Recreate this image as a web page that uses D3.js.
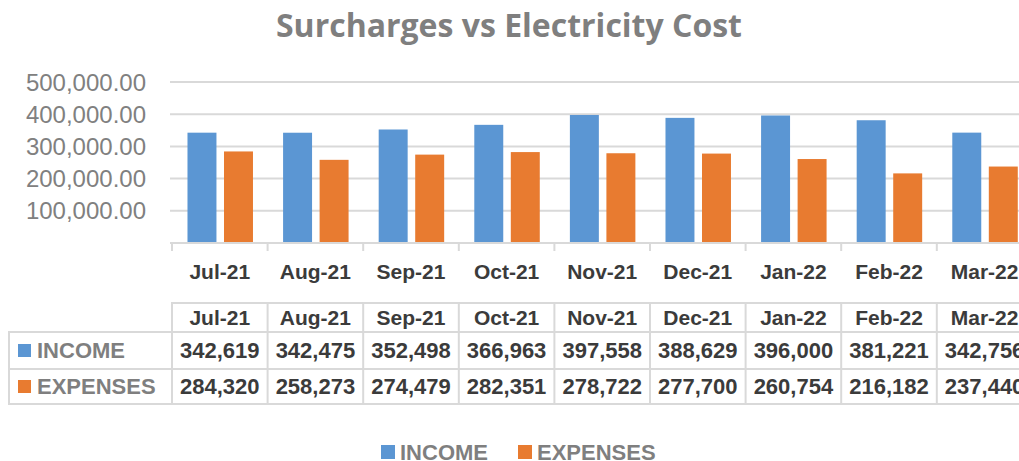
<!DOCTYPE html>
<html>
<head>
<meta charset="utf-8">
<script src="https://cdn.jsdelivr.net/npm/d3@7"></script>
<style>
  html, body { margin: 0; padding: 0; background: #fff; overflow: hidden; }
  text { font-family: "Liberation Sans", Arial, sans-serif; }
</style>
</head>
<body>
<div id="chart"></div>
<script>
// data
const months = ["Jul-21", "Aug-21", "Sep-21", "Oct-21", "Nov-21", "Dec-21", "Jan-22", "Feb-22", "Mar-22"];
const income = [342619, 342475, 352498, 366963, 397558, 388629, 396000, 381221, 342756];
const expenses = [284320, 258273, 274479, 282351, 278722, 277700, 260754, 216182, 237440];
const yTicks = [100000, 200000, 300000, 400000, 500000];

const series = [
    { name: "INCOME", values: income, color: "#5b96d3" },
    { name: "EXPENSES", values: expenses, color: "#e87b30" }
];

const width = 1019, height = 461;
const gridColor = "#d9d9d9";
const darkText = "#3b3b3b";
const grayText = "#7f7f7f";

const svg = d3.select("#chart").append("svg")
    .attr("width", width)
    .attr("height", height);

// title
svg.append("text")
    .attr("x", 509)
    .attr("y", 37)
    .attr("text-anchor", "middle")
    .style("font-family", "'Open Sans', sans-serif")
    .attr("font-weight", "bold")
    .attr("font-size", 32)
    .attr("fill", grayText)
    .text("Surcharges vs Electricity Cost");

// scales - category band runs off the right edge like the original
const step = 95.6;
const x = d3.scaleBand().domain(months).range([172, 172 + step * months.length]);
const y = d3.scaleLinear().domain([0, 500000]).range([243, 82]);
const bw = x.bandwidth();

// gridlines
svg.append("g")
    .selectAll("line")
    .data(yTicks)
    .join("line")
    .attr("x1", 170).attr("x2", width)
    .attr("y1", d => y(d)).attr("y2", d => y(d))
    .attr("stroke", gridColor)
    .attr("stroke-width", 2);

// y labels
const fmt = d3.format(",.2f");
svg.append("g")
    .selectAll("text")
    .data(yTicks)
    .join("text")
    .attr("x", 146)
    .attr("y", d => y(d))
    .attr("dy", "0.36em")
    .attr("text-anchor", "end")
    .attr("font-size", 24)
    .attr("fill", "#808080")
    .text(d => fmt(d));

// bars
const offsets = [0.162, 0.544];
series.forEach((s, si) => {
    svg.append("g")
        .selectAll("rect")
        .data(s.values)
        .join("rect")
        .attr("x", (d, i) => x(months[i]) + bw * offsets[si])
        .attr("width", bw * 0.303)
        .attr("y", d => y(d))
        .attr("height", d => y(0) - y(d))
        .attr("fill", s.color);
});

// x axis baseline and ticks
svg.append("line")
    .attr("x1", 170).attr("x2", width)
    .attr("y1", y(0)).attr("y2", y(0))
    .attr("stroke", gridColor).attr("stroke-width", 2);

const bounds = months.map(m => x(m)).concat([x.range()[1]]);
svg.append("g")
    .selectAll("line")
    .data(bounds)
    .join("line")
    .attr("x1", d => d).attr("x2", d => d)
    .attr("y1", y(0)).attr("y2", y(0) + 8)
    .attr("stroke", gridColor).attr("stroke-width", 2);

// category labels
svg.append("g")
    .selectAll("text")
    .data(months)
    .join("text")
    .attr("x", d => x(d) + bw / 2)
    .attr("y", 279)
    .attr("text-anchor", "middle")
    .attr("font-weight", "bold")
    .attr("font-size", 21)
    .attr("fill", darkText)
    .text(d => d);

// data table
const rowTop = [303, 332, 369, 404];
const table = svg.append("g");

// horizontal lines
table.append("line")
    .attr("x1", 171).attr("x2", width)
    .attr("y1", rowTop[0]).attr("y2", rowTop[0])
    .attr("stroke", gridColor).attr("stroke-width", 2);
rowTop.slice(1).forEach(yy => {
    table.append("line")
        .attr("x1", 8).attr("x2", width)
        .attr("y1", yy).attr("y2", yy)
        .attr("stroke", gridColor).attr("stroke-width", 2);
});

// vertical lines
table.append("line")
    .attr("x1", 9).attr("x2", 9)
    .attr("y1", rowTop[1]).attr("y2", rowTop[3])
    .attr("stroke", gridColor).attr("stroke-width", 2);
table.selectAll(".vline")
    .data(bounds)
    .join("line")
    .attr("class", "vline")
    .attr("x1", d => d).attr("x2", d => d)
    .attr("y1", rowTop[0] - 1).attr("y2", rowTop[3])
    .attr("stroke", gridColor).attr("stroke-width", 2);

// header row
table.selectAll(".hdr")
    .data(months)
    .join("text")
    .attr("class", "hdr")
    .attr("x", d => x(d) + bw / 2)
    .attr("y", (rowTop[0] + rowTop[1]) / 2)
    .attr("dy", "0.36em")
    .attr("text-anchor", "middle")
    .attr("font-weight", "bold")
    .attr("font-size", 21)
    .attr("fill", darkText)
    .text(d => d);

const numFmt = d3.format(",");
series.forEach((s, si) => {
    const cy = (rowTop[si + 1] + rowTop[si + 2]) / 2;
    table.append("rect")
        .attr("x", 18).attr("y", cy - 6.5)
        .attr("width", 13).attr("height", 13)
        .attr("fill", s.color);
    table.append("text")
        .attr("x", 37).attr("y", cy)
        .attr("dy", "0.36em")
        .attr("font-weight", "bold")
        .attr("font-size", 22)
        .attr("fill", grayText)
        .text(s.name);
    table.append("g")
        .selectAll("text")
        .data(s.values)
        .join("text")
        .attr("x", (d, i) => x(months[i]) + bw / 2)
        .attr("y", cy)
        .attr("dy", "0.36em")
        .attr("text-anchor", "middle")
        .attr("font-weight", "bold")
        .attr("font-size", 22)
        .attr("fill", darkText)
        .text(d => numFmt(d));
});

// legend
const legendX = [381, 518];
series.forEach((s, si) => {
    const g = svg.append("g").attr("transform", `translate(${legendX[si]},452)`);
    g.append("rect")
        .attr("x", 0).attr("y", -7)
        .attr("width", 14).attr("height", 14)
        .attr("fill", s.color);
    g.append("text")
        .attr("x", 19).attr("y", 0)
        .attr("dy", "0.36em")
        .attr("font-weight", "bold")
        .attr("font-size", 22)
        .attr("fill", grayText)
        .text(s.name);
});
</script>
</body>
</html>
